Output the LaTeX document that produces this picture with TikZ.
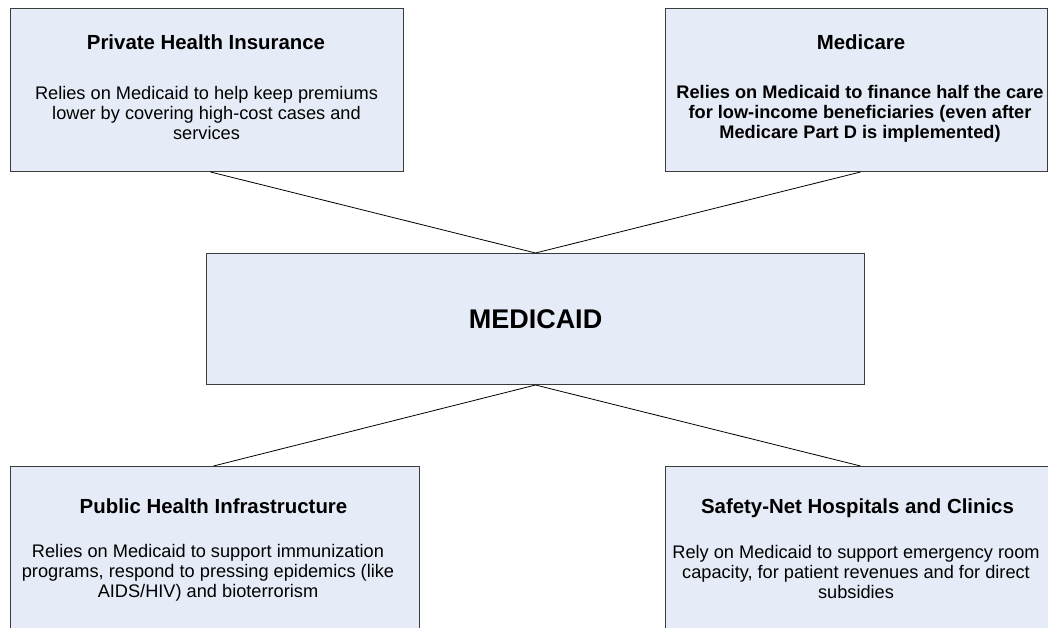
\documentclass[tikz,border=0pt]{standalone}
\usepackage{fontspec}
\setmainfont{Liberation Sans}
\definecolor{boxfill}{RGB}{230,236,247}
\definecolor{boxline}{RGB}{60,60,60}
\begin{document}
\begin{tikzpicture}[x=1pt,y=-1pt,
  box/.style={draw=boxline, line width=1pt, fill=boxfill, rectangle, inner sep=0pt, anchor=north west},
  boxtitle/.style={font=\fontsize{20.4}{24}\selectfont\bfseries, anchor=base, inner sep=0pt},
  boxbody/.style={font=\fontsize{18.2}{20}\selectfont, align=center, anchor=north, inner sep=0pt},
  mainlabel/.style={font=\fontsize{27}{32}\selectfont\bfseries, inner sep=0pt},
  link/.style={draw=black, line width=0.8pt}]
\useasboundingbox (0,0) rectangle (1048,628);
\clip (0,0) rectangle (1048,628);
% boxes
\node[box, minimum width=393pt, minimum height=163pt] (tl) at (10,8) {};
\node[box, minimum width=382pt, minimum height=163pt] (tr) at (665,8) {};
\node[box, minimum width=658pt, minimum height=131pt] (c) at (206,253) {};
\node[box, minimum width=409pt, minimum height=174pt] (bl) at (10,466) {};
\node[box, minimum width=395pt, minimum height=174pt] (br) at (665,466) {};
% connectors
\draw[link] ([xshift=3.5pt]tl.south) -- (c.north);
\draw[link] ([xshift=4pt]tr.south) -- (c.north);
\draw[link] (c.south) -- ([xshift=-1.5pt]bl.north);
\draw[link] (c.south) -- ([xshift=-2.5pt]br.north);
% texts
\node[mainlabel] (ct) at (c.center) {MEDICAID};
\node[boxtitle] (tlt) at (206,50) {Private Health Insurance};
\node[boxbody] (tlb) at (206.5,85.7) {Relies on Medicaid to help keep premiums\\lower by covering high-cost cases and\\services};
\node[boxtitle] (trt) at (861,50) {Medicare};
\node[boxbody, font=\fontsize{18.2}{20}\selectfont\bfseries] (trb) at (860,84.7) {Relies on Medicaid to finance half the care\\for low-income beneficiaries (even after\\Medicare Part D is implemented)};
\node[boxtitle] (blt) at (213.5,513) {Public Health Infrastructure};
\node[boxbody] (blb) at (208,543.7) {Relies on Medicaid to support immunization\\programs, respond to pressing epidemics (like\\AIDS/HIV) and bioterrorism};
\node[boxtitle] (brt) at (857.5,513) {Safety-Net Hospitals and Clinics};
\node[boxbody] (brb) at (856,544.7) {Rely on Medicaid to support emergency room\\capacity, for patient revenues and for direct\\subsidies};
\end{tikzpicture}
\end{document}
